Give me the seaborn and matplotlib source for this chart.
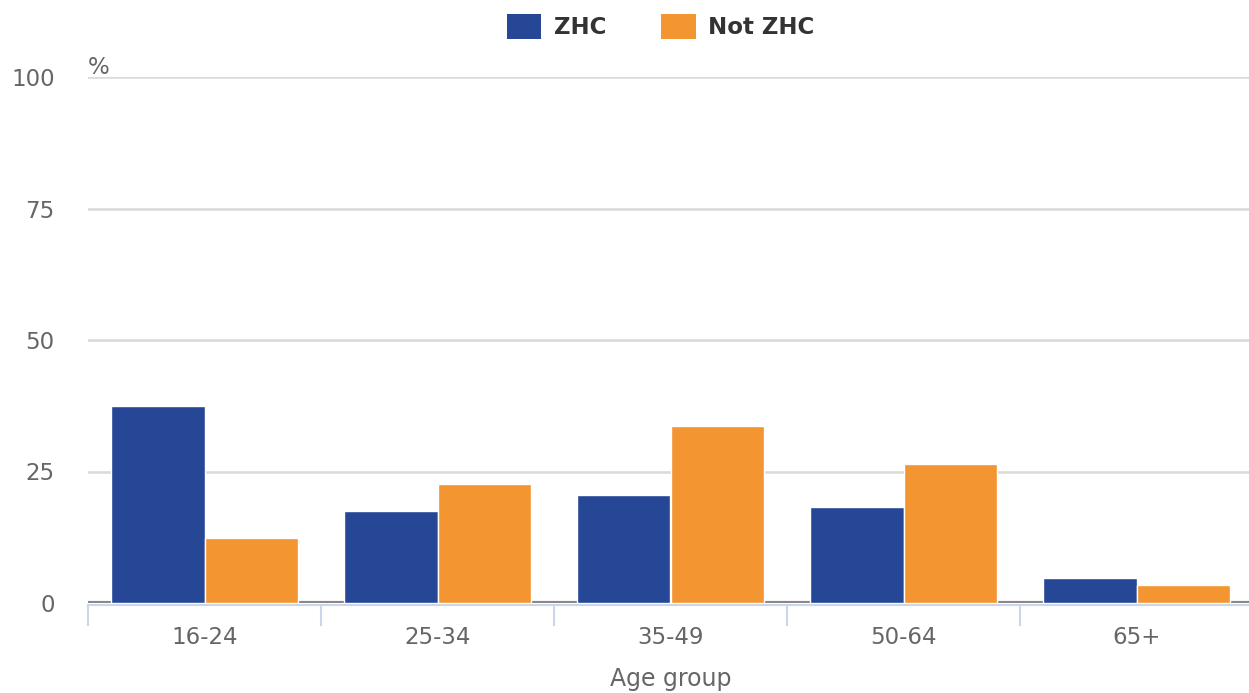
import matplotlib.pyplot as plt
import matplotlib.patches as patches
import seaborn as sbrn
import pandas as pd

# Chart values
age_groups = ['16-24', '25-34', '35-49', '50-64', '65+']
zhc = [37.5, 17.5, 20.5, 18.3, 4.8]
not_zhc = [12.4, 22.6, 33.7, 26.4, 3.4]
series_names = ['ZHC', 'Not ZHC']
y_ticks = [0, 25, 50, 75, 100]

colors = {'ZHC': '#264796', 'Not ZHC': '#F39530'}
grey_text = '#666666'

# Long table for seaborn
df = pd.DataFrame({
    'Age group': age_groups * 2,
    'Series': [series_names[0]] * len(age_groups) + [series_names[1]] * len(age_groups),
    'Value': zhc + not_zhc,
})

sbrn.set_style('white')
plt.rcParams['font.family'] = ['DejaVu Sans']
plt.rcParams['font.sans-serif'] = ['DejaVu Sans']

fig = plt.figure(figsize=(12.49, 6.93), dpi=100)
ax = fig.add_axes([88 / 1249, 1 - 603 / 693, (1253 - 88) / 1249, (603 - 77) / 693])

sbrn.barplot(data=df, x='Age group', y='Value', hue='Series', palette=colors, saturation=1,
             width=0.8, edgecolor='white', linewidth=1, ax=ax, legend=False, zorder=3)

# Gridlines and zero line
for t in y_ticks[1:]:
    ax.axhline(t, color='#d9d9d9', lw=1.8, zorder=0)
ax.axhline(0, color='#888888', lw=3, zorder=1)

ax.set_ylim(0, 100)
ax.set_xlim(-0.5, len(age_groups) - 0.5)
ax.set_yticks(y_ticks)
ax.set_yticklabels([str(t) for t in y_ticks])

# Category boundary ticks like the reference
ax.set_xticks([i - 0.5 for i in range(len(age_groups) + 1)], minor=True)
ax.tick_params(axis='x', which='minor', bottom=True, length=15, width=1.5,
               color='#ccd6eb', direction='out')
ax.tick_params(axis='x', which='major', length=0, pad=15, labelsize=16.5, labelcolor=grey_text)
ax.tick_params(axis='y', length=0, pad=24, labelsize=16.5, labelcolor=grey_text)

for side in ['top', 'right', 'left']:
    ax.spines[side].set_visible(False)
ax.spines['bottom'].set_color('#ccd6eb')
ax.spines['bottom'].set_linewidth(1.5)
ax.spines['bottom'].set_position(('outward', 1.5))

ax.set_xlabel('Age group', fontsize=17, color=grey_text, labelpad=13)
ax.set_ylabel('')

# "%" unit label above the top gridline
ax.text(0.0, 99.6, '%', transform=ax.get_yaxis_transform(), fontsize=16.5,
        color=grey_text, ha='left', va='bottom')

# Legend at the top
handles = [patches.Patch(facecolor=colors[s], edgecolor='none', label=s) for s in series_names]
fig.legend(handles=handles, loc='upper center', bbox_to_anchor=(0.529, 1.01), ncol=2,
           frameon=False, prop={'weight': 'bold', 'size': 16.5}, labelcolor='#333333',
           handlelength=1.5, handleheight=1.35, handletextpad=0.55, columnspacing=2.4)

plt.savefig('out.png', dpi=100)
plt.close(fig)
